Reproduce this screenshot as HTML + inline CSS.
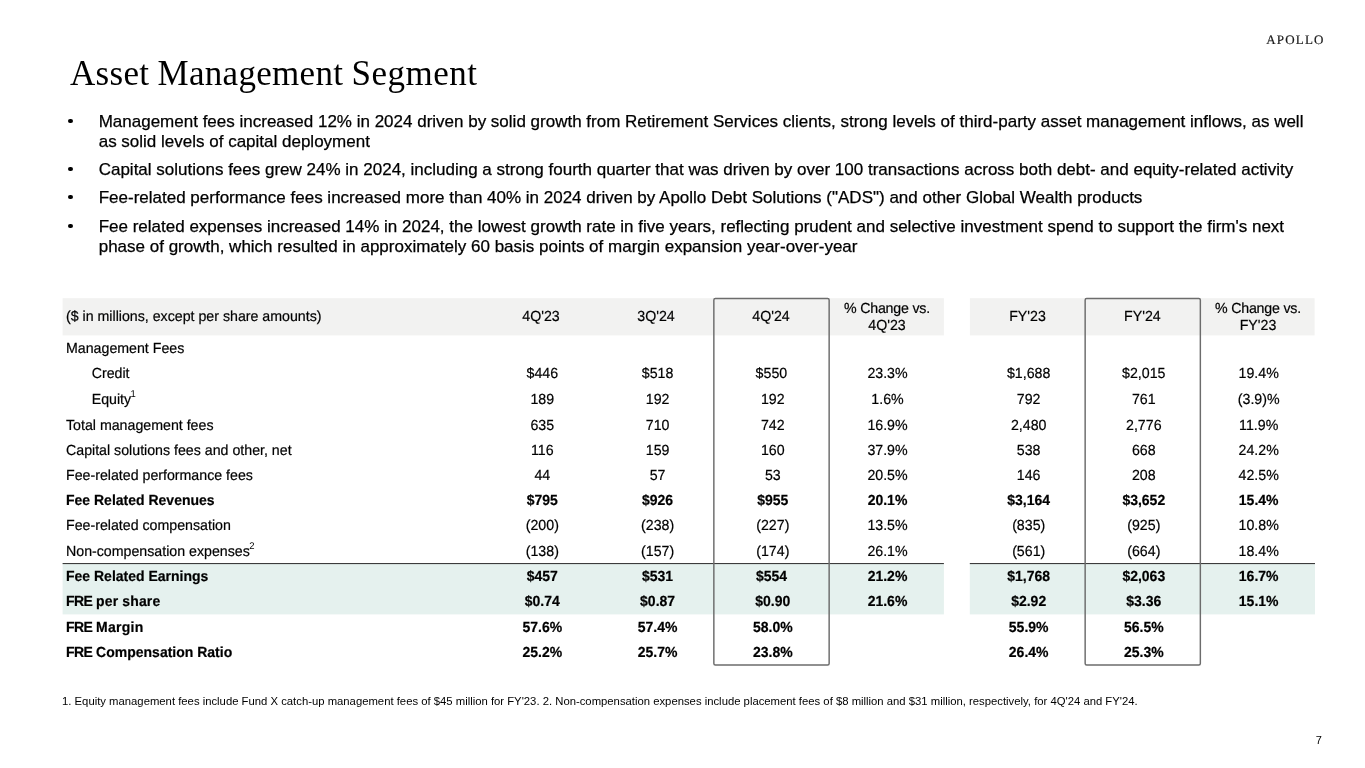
<!DOCTYPE html>
<html>
<head>
<meta charset="utf-8">
<style>
html,body{margin:0;padding:0;background:#fff;}
body{will-change:transform;width:1365px;height:768px;position:relative;overflow:hidden;font-family:"Liberation Sans",sans-serif;color:#000;}
.abs{position:absolute;white-space:nowrap;}
#logo{left:1266.2px;top:33px;font-family:"Liberation Serif",serif;font-size:13px;letter-spacing:1.2px;color:#1a1a1a;line-height:14px;text-rendering:geometricPrecision;-webkit-text-stroke:0.2px #1a1a1a;}
.tw{position:absolute;top:52px;font-family:"Liberation Serif",serif;font-size:35px;line-height:44px;color:#000;white-space:nowrap;}
.bl{position:absolute;left:98.7px;font-size:17px;line-height:20px;white-space:nowrap;-webkit-text-stroke:0.25px #000;}
.dot{position:absolute;left:68.1px;width:4.9px;height:4.8px;border-radius:50%;background:#000;font-size:0;}
#hdr1{position:absolute;left:62.5px;top:298px;width:882px;height:37px;background:#f2f2f1;}
#hdr2{position:absolute;left:970px;top:298px;width:345px;height:37px;background:#f2f2f1;}
#grn1{position:absolute;left:62.5px;top:563px;width:882px;height:52px;background:#e6f2ef;border-top:1px solid #333;box-sizing:border-box;}
#grn2{position:absolute;left:970px;top:563px;width:345px;height:52px;background:#e6f2ef;border-top:1px solid #333;box-sizing:border-box;}
.box{position:absolute;top:298px;height:367px;width:116px;border:1px solid #555;box-sizing:border-box;border-radius:1px;}
.row{position:absolute;left:0;width:1365px;height:20px;line-height:20px;font-size:14.2px;text-rendering:geometricPrecision;-webkit-text-stroke:0.2px #000;}
.row span{position:absolute;top:0;white-space:nowrap;transform-origin:50% 14px;}
.row .l{transform:scaleY(1.03);transform-origin:0 14px;}
.row .c{transform:scaleY(1.03);}
.row.b .l,.row.b .c{transform:scaleY(1.045);}
.row .l span{transform:none;}
.row .l{left:66px;}
.row .l.in{left:91.7px;}
.row .c{width:116px;text-align:center;}
.c1{left:483px}.c2{left:598px}.c3{left:713px}.c4{left:829px}.c5{left:969.5px}.c6{left:1084.4px}.c7{left:1200px}
.d1{left:484.3px}.d2{left:599.6px}.d3{left:714.8px}.d4{left:829.5px}.d5{left:970.7px}.d6{left:1085.8px}.d7{left:1200.7px}
.b{font-weight:bold;font-size:14px;}
.k{position:static !important;letter-spacing:-0.6px;}
.k2{position:static !important;}
sup{-webkit-text-stroke:0;font-size:9.5px;vertical-align:baseline;position:relative;top:-7px;margin-left:-0.6px;}
#fn{left:62px;top:695px;font-size:11.3px;line-height:13px;}
#pg{left:1315.7px;top:734px;font-size:11px;line-height:13px;}
</style>
</head>
<body>
<div id="logo" class="abs">APOLLO</div>
<div class="tw" id="t1" style="left:70px;letter-spacing:0.3px">Asset</div><div class="tw" id="t2" style="left:157.5px;letter-spacing:0.3px">Management</div><div class="tw" id="t3" style="left:351.6px;letter-spacing:0.5px">Segment</div>

<div class="dot" style="top:118.5px">•</div>
<div class="bl" style="top:112px">Management fees increased 12% in 2024 driven by solid growth from Retirement Services clients, strong levels of third-party asset management inflows, as well</div>
<div class="bl" style="top:132px">as solid levels of capital deployment</div>
<div class="dot" style="top:166.5px">•</div>
<div class="bl" style="top:160px">Capital solutions fees grew 24% in 2024, including a strong fourth quarter that was driven by over 100 transactions across both debt- and equity-related activity</div>
<div class="dot" style="top:194.5px">•</div>
<div class="bl" style="top:188px">Fee-related performance fees increased more than 40% in 2024 driven by Apollo Debt Solutions ("ADS") and other Global Wealth products</div>
<div class="dot" style="top:223.5px">•</div>
<div class="bl" style="top:217px">Fee related expenses increased 14% in 2024, the lowest growth rate in five years, reflecting prudent and selective investment spend to support the firm's next</div>
<div class="bl" style="top:237px">phase of growth, which resulted in approximately 60 basis points of margin expansion year-over-year</div>

<svg class="abs" style="left:0;top:0" width="1365" height="768" viewBox="0 0 1365 768">
<rect x="62.6" y="298.2" width="881.3" height="37.2" fill="#f2f2f1"/>
<rect x="969.9" y="298.2" width="344.7" height="37.2" fill="#f2f2f1"/>
<rect x="62.6" y="563.4" width="881.3" height="51" fill="#e5f1ee"/>
<rect x="969.8" y="563.4" width="345.2" height="51" fill="#e5f1ee"/>
<rect x="62.6" y="563" width="881.3" height="1.1" fill="#3c3c3c"/>
<rect x="969.8" y="563" width="345.2" height="1.1" fill="#3c3c3c"/>
</svg>

<div class="row" style="top:307px"><span class="l">($ in millions, except per share amounts)</span><span class="c c1">4Q'23</span><span class="c c2">3Q'24</span><span class="c c3">4Q'24</span><span class="c c5">FY'23</span><span class="c c6">FY'24</span></div>
<div class="row" style="top:299px"><span class="c c4" style="letter-spacing:-0.2px">% Change vs.</span><span class="c c7" style="letter-spacing:-0.2px">% Change vs.</span></div>
<div class="row" style="top:316px"><span class="c c4">4Q'23</span><span class="c c7">FY'23</span></div>

<div class="row" style="top:339px"><span class="l">Management Fees</span></div>
<div class="row" style="top:364px"><span class="l in">Credit</span><span class="c d1">$446</span><span class="c d2">$518</span><span class="c d3" style="left:713.4px">$550</span><span class="c d4">23.3%</span><span class="c d5">$1,688</span><span class="c d6">$2,015</span><span class="c d7">19.4%</span></div>
<div class="row" style="top:390px"><span class="l in">Equity<sup>1</sup></span><span class="c d1">189</span><span class="c d2">192</span><span class="c d3">192</span><span class="c d4">1.6%</span><span class="c d5">792</span><span class="c d6">761</span><span class="c d7">(3.9)%</span></div>
<div class="row" style="top:416px"><span class="l">Total management fees</span><span class="c d1">635</span><span class="c d2">710</span><span class="c d3">742</span><span class="c d4">16.9%</span><span class="c d5">2,480</span><span class="c d6">2,776</span><span class="c d7">11.9%</span></div>
<div class="row" style="top:441px"><span class="l">Capital solutions fees and other, net</span><span class="c d1">116</span><span class="c d2">159</span><span class="c d3">160</span><span class="c d4">37.9%</span><span class="c d5">538</span><span class="c d6">668</span><span class="c d7">24.2%</span></div>
<div class="row" style="top:466px"><span class="l">Fee-related performance fees</span><span class="c d1">44</span><span class="c d2">57</span><span class="c d3">53</span><span class="c d4">20.5%</span><span class="c d5">146</span><span class="c d6">208</span><span class="c d7">42.5%</span></div>
<div class="row b" style="top:490px"><span class="l">Fee Related Revenues</span><span class="c d1">$795</span><span class="c d2">$926</span><span class="c d3">$955</span><span class="c d4">20.1%</span><span class="c d5">$3,164</span><span class="c d6">$3,652</span><span class="c d7">15.4%</span></div>
<div class="row" style="top:516px"><span class="l">Fee-related compensation</span><span class="c d1">(200)</span><span class="c d2">(238)</span><span class="c d3">(227)</span><span class="c d4">13.5%</span><span class="c d5">(835)</span><span class="c d6">(925)</span><span class="c d7">10.8%</span></div>
<div class="row" style="top:542px"><span class="l">Non-compensation expenses<sup>2</sup></span><span class="c d1">(138)</span><span class="c d2">(157)</span><span class="c d3">(174)</span><span class="c d4">26.1%</span><span class="c d5">(561)</span><span class="c d6">(664)</span><span class="c d7">18.4%</span></div>
<div class="row b" style="top:566px"><span class="l">Fee Related Earnings</span><span class="c d1">$457</span><span class="c d2">$531</span><span class="c d3" style="left:713.6px">$554</span><span class="c d4">21.2%</span><span class="c d5">$1,768</span><span class="c d6">$2,063</span><span class="c d7">16.7%</span></div>
<div class="row b" style="top:591px"><span class="l"><span class="k">FRE</span> <span class="k2" style="letter-spacing:0.13px">per share</span></span><span class="c d1">$0.74</span><span class="c d2">$0.87</span><span class="c d3">$0.90</span><span class="c d4">21.6%</span><span class="c d5">$2.92</span><span class="c d6">$3.36</span><span class="c d7">15.1%</span></div>
<div class="row b" style="top:617px"><span class="l"><span class="k">FRE</span> <span class="k2" style="letter-spacing:0.27px">Margin</span></span><span class="c d1">57.6%</span><span class="c d2">57.4%</span><span class="c d3">58.0%</span><span class="c d5">55.9%</span><span class="c d6">56.5%</span></div>
<div class="row b" style="top:642px"><span class="l"><span class="k">FRE</span> Compensation Ratio</span><span class="c d1">25.2%</span><span class="c d2">25.7%</span><span class="c d3">23.8%</span><span class="c d5">26.4%</span><span class="c d6">25.3%</span></div>

<svg class="abs" style="left:0;top:0" width="1365" height="768" viewBox="0 0 1365 768">
<rect x="713.85" y="298.4" width="115.3" height="366.6" rx="1.5" ry="1.5" fill="none" stroke="#6c6c6c" stroke-width="1.45"/>
<rect x="1085.15" y="298.4" width="115.2" height="366.6" rx="1.5" ry="1.5" fill="none" stroke="#6c6c6c" stroke-width="1.45"/>
</svg>

<div id="fn" class="abs">1. Equity management fees include Fund X catch-up management fees of $45 million for FY'23. 2. Non-compensation expenses include placement fees of $8 million and $31 million, respectively, for 4Q'24 and FY'24.</div>
<div id="pg" class="abs">7</div>
</body>
</html>
